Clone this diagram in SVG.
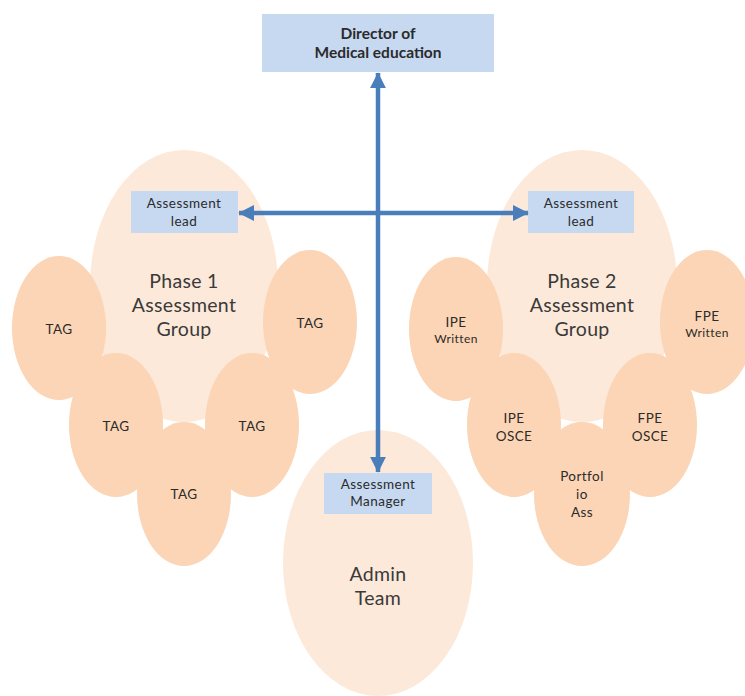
<svg xmlns="http://www.w3.org/2000/svg" width="745" height="696" viewBox="0 0 745 696">
<style>
  .big { fill: #fde9d9; }
  .small { fill: #fbd5b5; }
  .box { fill: #c6d9f1; }
  .t { font-family: Lato, "Open Sans", "Liberation Sans", sans-serif; fill: #2b2b2b; text-anchor: middle; }
  .lg { font-size: 19.5px; fill: #3a3a3a; letter-spacing: 0.3px; }
  .md { font-size: 13.5px; letter-spacing: 0.45px; }
  .sm { font-size: 12px; letter-spacing: 0.4px; }
  .bd { font-size: 15.5px; font-weight: bold; }
  .conn { stroke: #4a7ebb; stroke-width: 4.5; fill: none; }
</style>
<defs>
  <marker id="ah" viewBox="0 0 10 10" refX="9.5" refY="5" markerWidth="3.6" markerHeight="3.6" orient="auto-start-reverse" markerUnits="strokeWidth">
    <path d="M0,0 L10,5 L0,10 z" fill="#4a7ebb"/>
  </marker>
</defs>
<rect width="745" height="696" fill="#ffffff"/>

<g id="phase1">
  <ellipse class="big" cx="184" cy="286" rx="94" ry="136"/>
  <text class="t lg" x="184" y="288">Phase 1</text>
  <text class="t lg" x="184" y="312">Assessment</text>
  <text class="t lg" x="184" y="336">Group</text>
</g>
<g id="phase2">
  <ellipse class="big" cx="582" cy="286" rx="95" ry="136"/>
  <text class="t lg" x="582" y="288">Phase 2</text>
  <text class="t lg" x="582" y="312">Assessment</text>
  <text class="t lg" x="582" y="336">Group</text>
</g>
<g id="admin">
  <ellipse class="big" cx="378" cy="563" rx="95" ry="133"/>
  <text class="t lg" x="378" y="581">Admin</text>
  <text class="t lg" x="378" y="605">Team</text>
</g>

<g id="tag1"><ellipse class="small" cx="59" cy="328" rx="47" ry="72"/><text class="t md" x="59" y="334">TAG</text></g>
<g id="tag2"><ellipse class="small" cx="310" cy="322" rx="47" ry="72"/><text class="t md" x="310" y="328">TAG</text></g>
<g id="tag3"><ellipse class="small" cx="116" cy="425" rx="47" ry="72"/><text class="t md" x="116" y="431">TAG</text></g>
<g id="tag4"><ellipse class="small" cx="252" cy="425" rx="47" ry="72"/><text class="t md" x="252" y="431">TAG</text></g>
<g id="tag5"><ellipse class="small" cx="184" cy="494" rx="47" ry="72"/><text class="t md" x="184" y="499">TAG</text></g>

<g id="ipe-written"><ellipse class="small" cx="456" cy="329" rx="47" ry="72"/><text class="t md" x="456" y="327">IPE</text><text class="t sm" x="456" y="343">Written</text></g>
<g id="fpe-written"><ellipse class="small" cx="707" cy="322" rx="47" ry="72"/><text class="t md" x="707" y="321">FPE</text><text class="t sm" x="707" y="337">Written</text></g>
<g id="ipe-osce"><ellipse class="small" cx="514" cy="425" rx="47" ry="72"/><text class="t md" x="514" y="423">IPE</text><text class="t md" x="514" y="441">OSCE</text></g>
<g id="fpe-osce"><ellipse class="small" cx="650" cy="425" rx="47" ry="72"/><text class="t md" x="650" y="423">FPE</text><text class="t md" x="650" y="441">OSCE</text></g>
<g id="portfolio"><ellipse class="small" cx="582" cy="494" rx="48" ry="72"/><text class="t md" x="582" y="481">Portfol</text><text class="t md" x="582" y="499">io</text><text class="t md" x="582" y="517">Ass</text></g>

<g id="director">
  <rect class="box" x="262" y="14" width="232" height="58"/>
  <text class="t bd" x="378" y="39">Director of</text>
  <text class="t bd" x="378" y="58">Medical education</text>
</g>
<g id="lead1">
  <rect class="box" x="131" y="191" width="107" height="42"/>
  <text class="t md" x="184" y="208">Assessment</text>
  <text class="t md" x="184" y="226">lead</text>
</g>
<g id="lead2">
  <rect class="box" x="528" y="191" width="106" height="42"/>
  <text class="t md" x="581" y="208">Assessment</text>
  <text class="t md" x="581" y="226">lead</text>
</g>
<g id="manager">
  <rect class="box" x="324" y="473" width="108" height="41"/>
  <text class="t md" x="378" y="489">Assessment</text>
  <text class="t md" x="378" y="506">Manager</text>
</g>

<g id="connectors">
  <line class="conn" x1="378" y1="73" x2="378" y2="472" marker-start="url(#ah)" marker-end="url(#ah)"/>
  <line class="conn" x1="239" y1="213" x2="528" y2="213" marker-start="url(#ah)" marker-end="url(#ah)"/>
</g>
</svg>
